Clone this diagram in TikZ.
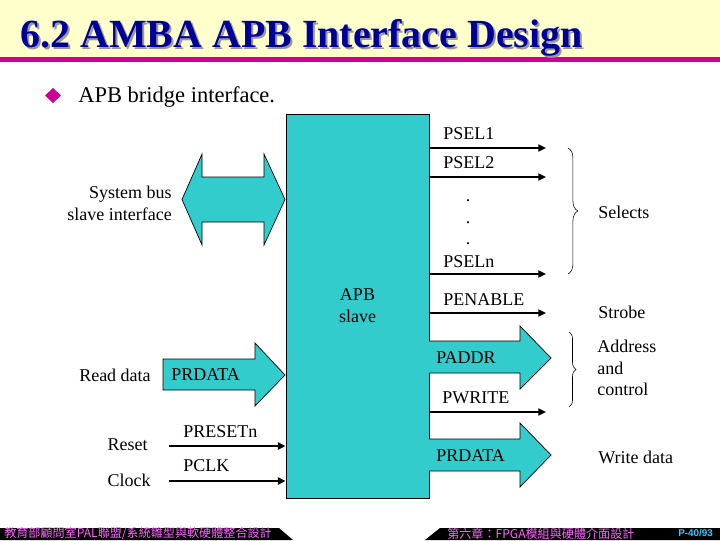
\documentclass[tikz,border=0pt]{standalone}
\usepackage{fontspec}
\setmainfont{Liberation Serif}
\newfontfamily\cjk{Noto Sans CJK TC}
\newfontfamily\pagefont{Liberation Sans}
\usetikzlibrary{arrows.meta,decorations.pathreplacing}
\definecolor{slavecol}{HTML}{33CCCC}
\definecolor{titleblue}{HTML}{000099}
\definecolor{bandyellow}{HTML}{FFFFCC}
\definecolor{rulemag}{HTML}{CC0099}
\definecolor{footpink}{HTML}{FF66FF}
\definecolor{footblue}{HTML}{33CCFF}

\begin{document}
\begin{tikzpicture}[x=0.025cm, y=-0.025cm,
    lbl/.style={font=\fontsize{12.8}{15.5}\selectfont, inner sep=0pt},
    sig/.style={line width=1.5pt, -{Triangle[length=5.5pt,width=5pt]}},
    bus/.style={draw=black, line width=0.5pt, fill=slavecol},
    brc/.style={decorate, decoration={brace, amplitude=#1}, thin},
    brc/.default=6pt,
    foot/.style={anchor=west, inner sep=0pt, font=\cjk\fontsize{8.6}{9}\selectfont, text=footpink}
]
\useasboundingbox (0,0) rectangle (720,540);

% title banner
\fill[bandyellow] (0,0) rectangle (720,57);
\fill[rulemag] (0,57) rectangle (720,62);
\node[anchor=base west, inner sep=0pt, font=\fontsize{28.4}{30}\selectfont\bfseries, text=black!40] (titleshadow) at (22,49) {6.2 AMBA APB Interface Design};
\node[anchor=base west, inner sep=0pt, font=\fontsize{28.4}{30}\selectfont\bfseries, text=titleblue] (title) at (20,47) {6.2 AMBA APB Interface Design};

\fill[rulemag] (45,95.5) -- (53,88) -- (61,95.5) -- (53,103) -- cycle;
\node[anchor=base west, inner sep=0pt, font=\fontsize{16}{18}\selectfont] (sub) at (78,102) {APB bridge interface.};

% the slave block
\node[bus, lbl, align=center, minimum width=3.575cm, minimum height=9.6cm] (apb) at (357.5,306) {APB\\slave};

% system bus
\draw[bus] (182,199.5) -- (202,154) -- (202,177) -- (264,177) -- (264,154) -- (285,199.5)
    -- (264,245) -- (264,222) -- (202,222) -- (202,245) -- cycle;
\node[lbl, anchor=east, align=right] (sysbus) at (172,203) {System bus\\slave interface};

% selects
\coordinate (sel1) at (546,148);
\coordinate (sel2) at (546,177);
\coordinate (seln) at (546,274);
\draw[sig] (apb.east |- sel1) -- (sel1);
\draw[sig] (apb.east |- sel2) -- (sel2);
\draw[sig] (apb.east |- seln) -- (seln);
\node[lbl, anchor=west] (psel1) at (443,134) {PSEL1};
\node[lbl, anchor=west] (psel2) at (443,163) {PSEL2};
\node[lbl, anchor=base] (dot1) at (468,201) {.};
\node[lbl, anchor=base] (dot2) at (468,223) {.};
\node[lbl, anchor=base] (dot3) at (468,244) {.};
\node[lbl, anchor=west] (pseln) at (443,262) {PSELn};
\draw[brc=7pt] (568,148) -- (568,274);
\node[lbl, anchor=west] (selects) at (598,212) {Selects};

% strobe
\coordinate (pen) at (546,313);
\draw[sig] (apb.east |- pen) -- (pen);
\node[lbl, anchor=west] (penable) at (443,300) {PENABLE};
\node[lbl, anchor=west] (strobe) at (598,312) {Strobe};

% address and control
\draw[bus] (429,373) -- (520,373) -- (520,389) -- (551,358) -- (520,326) -- (520,341) -- (429,341);
\node[lbl, anchor=west] (paddr) at (436,358) {PADDR};
\coordinate (pwr) at (546,412);
\draw[sig] (apb.east |- pwr) -- (pwr);
\node[lbl, anchor=west] (pwrite) at (442,398) {PWRITE};
\draw[brc=5pt] (569,332) -- (569,407);
\node[lbl, anchor=west, align=left] (addr) at (597,368) {Address\\and\\control};

% write data
\draw[bus] (429,471) -- (520,471) -- (520,487) -- (551,455) -- (520,423) -- (520,439) -- (429,439);
\node[lbl, anchor=west] (prdataw) at (436,456) {PRDATA};
\node[lbl, anchor=west] (wdata) at (598,457) {Write data};

% read data
\draw[bus] (163,359) -- (255,359) -- (255,343) -- (285,375) -- (255,406) -- (255,390) -- (163,390) -- cycle;
\node[lbl, anchor=west] (prdatar) at (171,375) {PRDATA};
\node[lbl, anchor=east] (rdata) at (151,375) {Read data};

% reset and clock
\coordinate (rstin) at (169,446);
\coordinate (clkin) at (169,481);
\draw[sig] (rstin) -- (rstin -| apb.west);
\draw[sig] (clkin) -- (clkin -| apb.west);
\node[lbl, anchor=west] (presetn) at (183,432) {PRESETn};
\node[lbl, anchor=west] (pclk) at (183,466) {PCLK};
\node[lbl, anchor=east] (reset) at (148,445) {Reset};
\node[lbl, anchor=east] (clock) at (151,480) {Clock};

% footer
\fill (0,528) -- (279,528) -- (293,540) -- (0,540) -- cycle;
\fill (440,528) -- (720,528) -- (720,540) -- (425,540) -- cycle;
\node[foot] (footl) at (4,533.5) {教育部顧問室PAL聯盟/系統雛型與軟硬體整合設計};
\node[foot] (footr) at (447,533.5) {第六章：FPGA模組與硬體介面設計};
\node[anchor=east, inner sep=0pt, font=\pagefont\bfseries\fontsize{7}{8}\selectfont, text=footblue] (page) at (713,533.5) {P-40/93};
\end{tikzpicture}
\end{document}
